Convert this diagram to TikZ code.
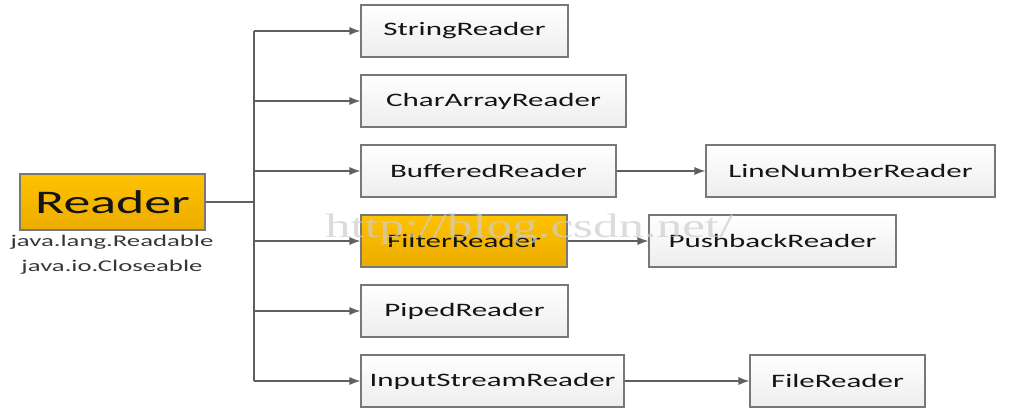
\documentclass[tikz,border=0pt]{standalone}
\usepackage{fontspec}
\setmainfont{Carlito}[FakeStretch=1.63]
\newfontfamily\wmfont{Liberation Serif}[FakeStretch=1.5]
\usetikzlibrary{arrows.meta,shadows}
\definecolor{linegray}{RGB}{95,95,95}
\definecolor{boxborder}{RGB}{120,120,120}
\definecolor{orangetop}{RGB}{255,194,0}
\definecolor{orangebot}{RGB}{236,172,0}
\definecolor{txt}{RGB}{20,20,20}
\definecolor{wm}{RGB}{205,205,205}
\tikzset{
  cls/.style={draw=boxborder, line width=1.1pt, rectangle, inner sep=0pt,
    minimum height=52pt, top color=white, bottom color=black!7,
    text=txt, font=\fontsize{19}{22}\selectfont,
    drop shadow={shadow xshift=1.2pt, shadow yshift=-1.2pt, opacity=0.25}},
  hot/.style={cls, top color=orangetop, bottom color=orangebot},
  arr/.style={draw=linegray, line width=1.2pt, -{Latex[length=11pt,width=8pt]}},
  ln/.style={draw=linegray, line width=1.2pt},
  sub/.style={text=txt!85, font=\fontsize{16.4}{18}\selectfont, inner sep=0pt}
}
\begin{document}
\begin{tikzpicture}[x=1pt,y=-1pt]
\useasboundingbox (0,0) rectangle (1010,420);
\node[hot, minimum width=185pt, minimum height=56pt, font=\fontsize{33}{36}\selectfont] (reader) at (112.5,202) {Reader};
\node[sub] (s1) at (112,242) {java.lang.Readable};
\node[sub] (s2) at (112,267) {java.io.Closeable};

\node[cls, minimum width=207pt] (sr) at (464.5,31) {StringReader};
\node[cls, minimum width=265pt] (car) at (493.5,101) {CharArrayReader};
\node[cls, minimum width=255pt] (br) at (488.5,171) {BufferedReader};
\node[cls, minimum width=289pt] (lnr) at (850.5,171) {LineNumberReader};
\node[hot, minimum width=206pt] (fr) at (464,241) {FilterReader};
\node[cls, minimum width=247pt] (pbr) at (772.5,241) {PushbackReader};
\node[cls, minimum width=207pt] (pr) at (464.5,311) {PipedReader};
\node[cls, minimum width=263pt] (isr) at (492.5,381) {InputStreamReader};
\node[cls, minimum width=175pt] (filer) at (837.5,381) {FileReader};

\coordinate (ttop) at (254,31);
\coordinate (tbot) at (254,381);
\draw[ln] (ttop) -- (tbot);
\draw[ln] (reader.east) -- (reader.east -| ttop);
\foreach \n in {sr,car,br,fr,pr,isr}
  \draw[arr] (ttop |- \n.west) -- (\n.west);
\draw[arr] (br) -- (lnr);
\draw[arr] (fr) -- (pbr);
\draw[arr] (isr) -- (filer);

\node[anchor=base west, inner sep=0pt, text=wm, opacity=0.7, font=\wmfont\fontsize{34}{36}\selectfont] (wmark) at (325,237) {http://blog.csdn.net/};
\end{tikzpicture}
\end{document}
